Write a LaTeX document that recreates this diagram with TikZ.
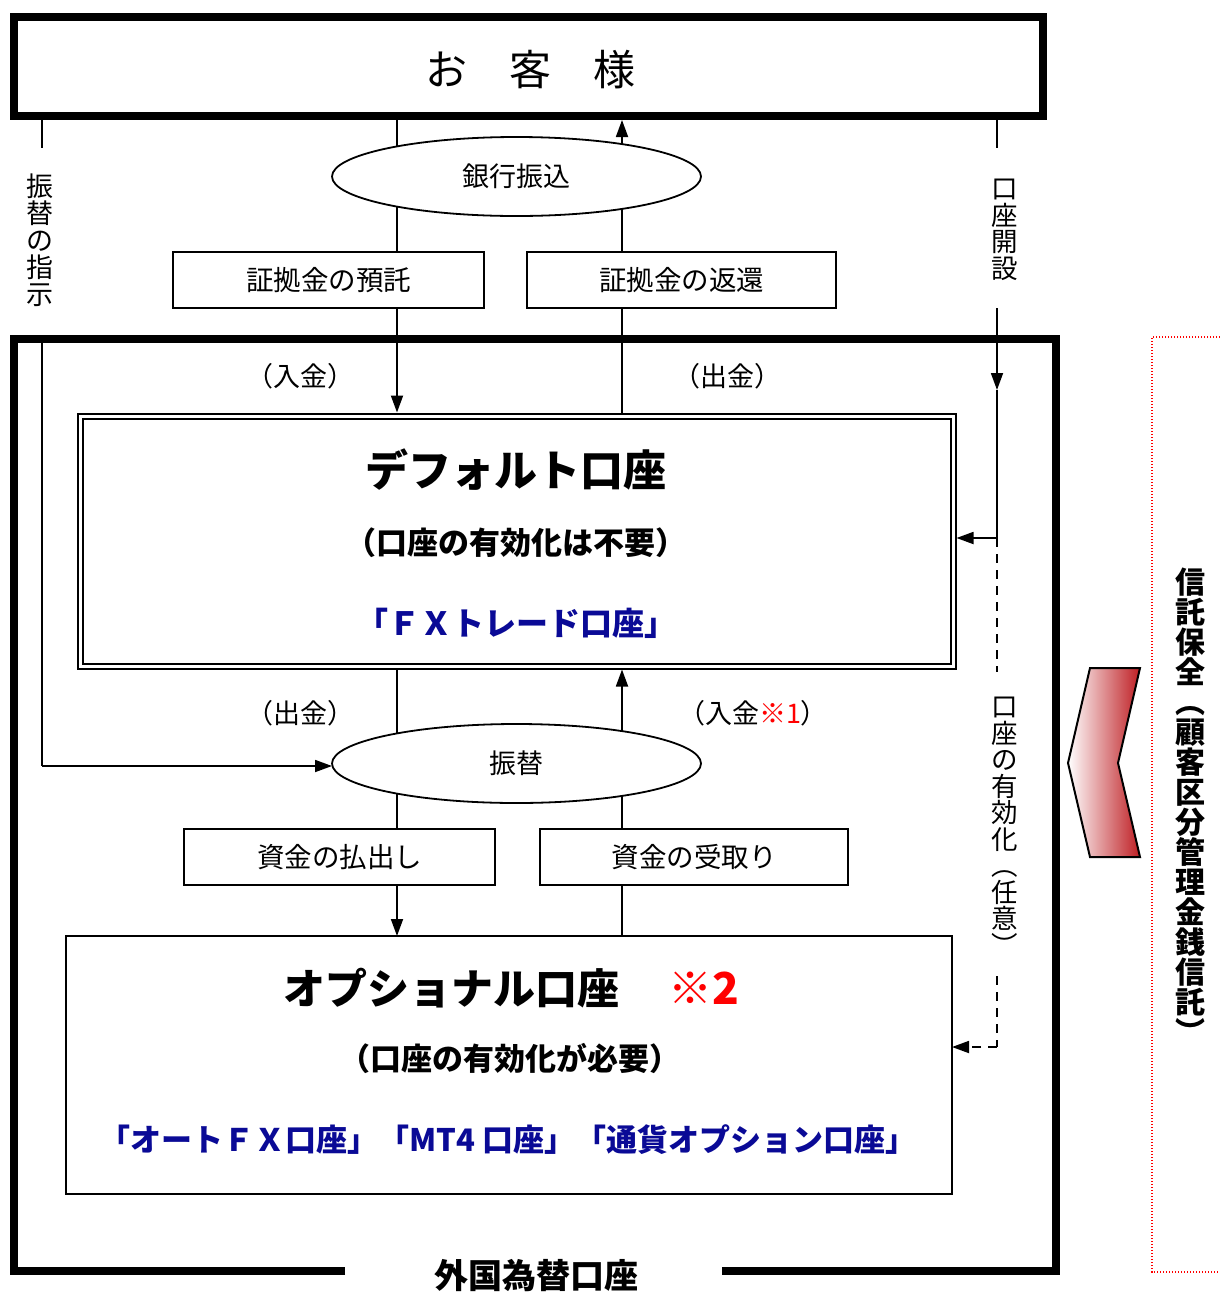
\documentclass[tikz,border=0pt]{standalone}
\usepackage{fontspec}
\newfontfamily\jp{Noto Sans CJK JP}
\usetikzlibrary{shapes.geometric,arrows.meta,backgrounds}
\definecolor{navy}{RGB}{10,10,150}
\definecolor{chevred}{RGB}{190,30,35}
\newcommand\jpsize[1]{\fontsize{#1}{#1}\selectfont}
\begin{document}
\begin{tikzpicture}[x=1pt,y=-1pt,
  ln/.style={line width=1.8pt},
  arr/.style={-{Triangle[length=17pt,width=12pt]}},
  dsh/.style={dash pattern=on 9pt off 7pt},
  box/.style={draw, line width=1.8pt, fill=white, inner sep=0pt, outer sep=0pt},
  lbl/.style={inner sep=0pt, outer sep=0pt},
  vlab/.style={inner sep=0pt, outer sep=0pt, align=center},
  oval/.style={draw, ellipse, line width=1.8pt, fill=white, inner sep=0pt, outer sep=0pt,
    minimum width=369pt, minimum height=79pt, font=\jp\jpsize{27}}]
\useasboundingbox (0,0) rectangle (1220,1294);

% customer box
\node[draw, line width=8pt, minimum width=1029pt, minimum height=99pt, inner sep=0pt, outer sep=4pt] (kyaku) at (528.5,66.5) {};
\node[lbl, font=\jp\jpsize{42}] (kyakut) at (530,70) {お　客　様};

% outer account frame
\draw[line width=8pt, line join=miter] (345,1271) -- (14,1271) -- (14,339) -- (1056,339) -- (1056,1271) -- (722,1271);
\node[lbl, font=\jp\bfseries\jpsize{34}] (gaikoku) at (536,1276) {外国為替口座};

% ellipses
\node[oval] (ginko) at (516.5,176.5) {銀行振込};
\node[oval] (furikae) at (516.5,763.5) {振替};

% small boxes
\node[box, minimum width=311pt, minimum height=56pt, font=\jp\jpsize{27.5}] (yotaku) at (328.5,280) {証拠金の預託};
\node[box, minimum width=309pt, minimum height=56pt, font=\jp\jpsize{27.5}] (henkan) at (681.5,280) {証拠金の返還};
\node[box, minimum width=311pt, minimum height=56pt, font=\jp\jpsize{27.5}] (harai) at (339.5,857) {資金の払出し};
\node[box, minimum width=308pt, minimum height=56pt, font=\jp\jpsize{27.5}] (uketori) at (694,857) {資金の受取り};

% default account
\node[draw, line width=2pt, double, double distance=3pt, fill=white, minimum width=873pt, minimum height=250pt, inner sep=0pt, outer sep=3.5pt] (def) at (516.5,541) {};
\node[lbl, font=\jp\bfseries\jpsize{43}] (deft) at (516,470) {デフォルト口座};
\node[lbl, font=\jp\bfseries\jpsize{31}] (defs) at (516,543) {（口座の有効化は不要）};
\node[lbl, font=\jp\bfseries\jpsize{32}, text=navy] (defn) at (516,623) {「ＦＸトレード口座」};

% optional account
\node[box, minimum width=886pt, minimum height=258pt] (opt) at (509,1065) {};
\node[lbl, font=\jp\bfseries\jpsize{42}] (optt) at (451.5,988) {オプショナル口座};
\node[lbl, font=\jp\bfseries\jpsize{44}, text=red] (opt2) at (704,988) {※2};
\node[lbl, font=\jp\bfseries\jpsize{31}] (opts) at (510,1058) {（口座の有効化が必要）};
\node[lbl, font=\jp\bfseries\jpsize{31}, text=navy] (optn) at (508,1140) {「オートＦＸ口座」「MT4 口座」「通貨オプション口座」};

% flow labels
\node[lbl, font=\jp\jpsize{27}] (nyu1) at (300,376) {（入金）};
\node[lbl, font=\jp\jpsize{27}] (shu1) at (727,376) {（出金）};
\node[lbl, font=\jp\jpsize{27}] (shu2) at (300,713) {（出金）};
\node[lbl, font=\jp\jpsize{27}] (nyu2) at (753,713) {（入金\textcolor{red}{※1}）};

% vertical labels
\node[vlab, font=\jp\jpsize{27}] (shiji) at (40,240) {振\\替\\の\\指\\示};
\node[vlab, font=\jp\jpsize{26.5}] (kaisetsu) at (1005,230) {口\\座\\開\\設};
\node[vlab, font=\jp\jpsize{26.5}] (yukou) at (1005,826) {口\\座\\の\\有\\効\\化\\︵\\任\\意\\︶};
\node[vlab, font=\jp\bfseries\jpsize{30}] (shintaku) at (1190,806) {信\\託\\保\\全\\︵\\顧\\客\\区\\分\\管\\理\\金\\銭\\信\\託\\︶};

% chevron and trust frame
\draw[line width=2pt, left color=white, right color=chevred] (1090,668) -- (1140,668) -- (1118,763) -- (1140,857) -- (1090,857) -- (1068,763) -- cycle;
\draw[red, line width=1.2pt, dash pattern=on 1.2pt off 1.8pt] (1235,337) -- (1152,337) -- (1152,1272) -- (1235,1272);

% coordinates
\coordinate (xL) at (397,0);
\coordinate (xR) at (622,0);
\coordinate (s1) at (42,148);
\coordinate (s2) at (42,339);
\coordinate (s3) at (42,766);
\coordinate (k1) at (997,148);
\coordinate (k2) at (997,308);
\coordinate (k3) at (997,390);
\coordinate (k4) at (997,538);
\coordinate (k5) at (997,672);
\coordinate (k6) at (997,976);
\coordinate (k7) at (997,1047);

\begin{scope}[on background layer]
\draw[ln] (kyaku.south -| xL) -- (yotaku.north -| xL);
\draw[ln, arr] (yotaku.south -| xL) -- (def.north -| xL);
\draw[ln] (def.north -| xR) -- (henkan.south -| xR);
\draw[ln, arr] (henkan.north -| xR) -- (kyaku.south -| xR);
\draw[ln] (def.south -| xL) -- (harai.north -| xL);
\draw[ln, arr] (harai.south -| xL) -- (opt.north -| xL);
\draw[ln] (opt.north -| xR) -- (uketori.south -| xR);
\draw[ln, arr] (uketori.north -| xR) -- (def.south -| xR);
\draw[ln] (kyaku.south -| s1) -- (s1);
\draw[ln] (s2) -- (s3);
\draw[ln, arr] (s3) -- (s3 -| furikae.west);
\draw[ln] (kyaku.south -| k1) -- (k1);
\draw[ln, arr] (k2) -- (k3);
\draw[ln] (k3) -- (k4);
\draw[ln, arr] (k4) -- (k4 -| def.east);
\draw[ln, dsh] (k4) -- (k5);
\draw[ln, dsh] (k6) -- (k7);
\draw[ln, dsh, arr] (k7) -- (k7 -| opt.east);
\end{scope}
\end{tikzpicture}
\end{document}
